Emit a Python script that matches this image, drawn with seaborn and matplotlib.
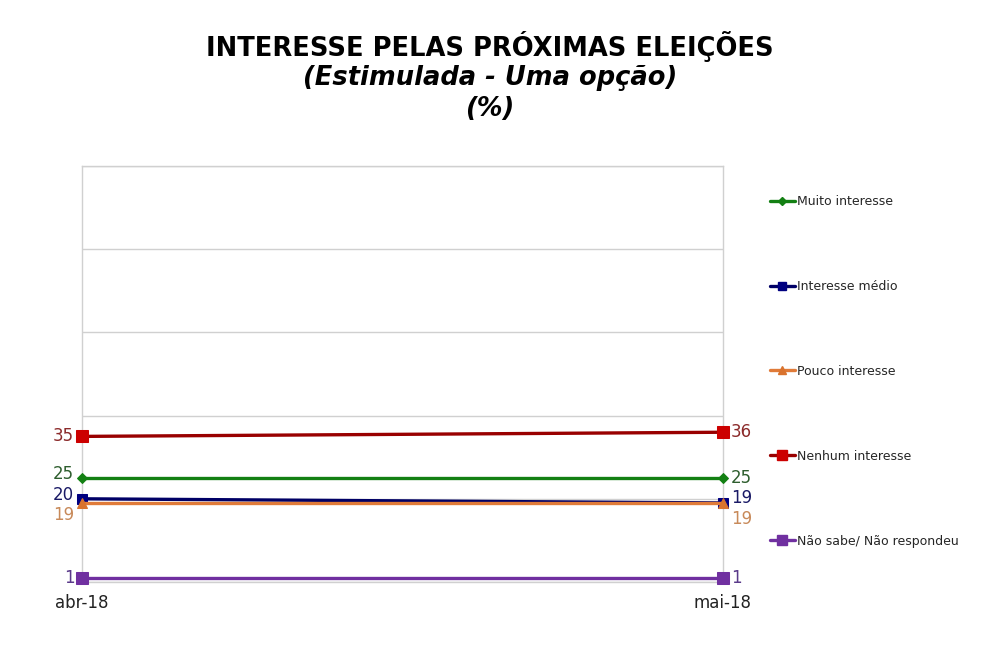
import matplotlib
matplotlib.use("Agg")
import matplotlib.pyplot as plt
import seaborn as sns
import pandas as pd
from matplotlib.lines import Line2D

periods = ["abr-18", "mai-18"]
series = ["Muito interesse", "Interesse médio", "Pouco interesse", "Nenhum interesse", "Não sabe/ Não respondeu"]
muito = [25, 25]
medio = [20, 19]
pouco = [19, 19]
nenhum = [35, 36]
nao_sabe = [1, 1]
values = [muito, medio, pouco, nenhum, nao_sabe]

line_colors = ["#138013", "#000066", "#E07B39", "#990000", "#7030A0"]
marker_colors = ["#138013", "#000080", "#D9732E", "#CC0000", "#7030A0"]
label_colors = ["#2E5E2E", "#1A1A66", "#C88A5A", "#8B2A2A", "#5A3A8A"]
markers = ["D", "s", "^", "s", "s"]
msizes = [5, 7, 7, 8, 8]

rows = []
for s, v in zip(series, values):
    for i, p in enumerate(periods):
        rows.append({"periodo": i, "serie": s, "valor": v[i]})
df = pd.DataFrame(rows)

sns.set_style("white")
plt.rcParams['font.family'] = ['DejaVu Sans']

fig = plt.figure(figsize=(9.87, 6.48), dpi=100)
ax = fig.add_axes([82/987, 1-582/648, (723-82)/987, (582-166)/648])

for s, lc, mc, mk, ms in zip(series, line_colors, marker_colors, markers, msizes):
    sub = df[df["serie"] == s]
    sns.lineplot(data=sub, x="periodo", y="valor", ax=ax, color=lc, linewidth=2.4,
                 marker=mk, markersize=ms, markerfacecolor=mc, markeredgecolor=mc,
                 legend=False, zorder=3, clip_on=False)

ax.set_xlim(0, 1)
ax.set_ylim(0, 100)
ax.set_yticks([0, 20, 40, 60, 80, 100])
ax.set_yticklabels([])
ax.tick_params(axis="y", length=0)
ax.set_xticks([0, 1])
ax.set_xticklabels(periods, fontsize=12, color="#222222")
ax.tick_params(axis="x", length=0, pad=9)
ax.grid(axis="y", color="#D0D0D0", linewidth=1)
for sp in ax.spines.values():
    sp.set_color("#D0D0D0")
    sp.set_linewidth(1)
ax.set_xlabel("")
ax.set_ylabel("")

# data labels
left_offsets = [1.0, 1.0, -2.8, 0, 0]
right_offsets = [0, 1.3, -3.9, 0, 0]
for v, c, lo, ro in zip(values, label_colors, left_offsets, right_offsets):
    ax.text(-0.012, v[0] + lo, str(v[0]), ha="right", va="center", fontsize=12, color=c)
    ax.text(1.012, v[1] + ro, str(v[1]), ha="left", va="center", fontsize=12, color=c)

# legend
handles = [Line2D([0], [0], color=lc, linewidth=2.4, marker=mk, markersize=ms - 1,
                  markerfacecolor=mc, markeredgecolor=mc)
           for lc, mc, mk, ms in zip(line_colors, marker_colors, markers, msizes)]
fig.legend(handles, series, loc="upper left", bbox_to_anchor=(765/987, 1-190/648),
           frameon=False, fontsize=9, handlelength=2.0, handletextpad=0.2,
           labelspacing=5.75, borderaxespad=0)

fig.text(490/987, 1-46/648, "INTERESSE PELAS PRÓXIMAS ELEIÇÕES", ha="center", va="center",
         fontsize=18.5, fontweight="bold", color="black")
fig.text(490/987, 1-78/648, "(Estimulada - Uma opção)", ha="center", va="center",
         fontsize=18.5, fontweight="bold", fontstyle="italic", color="black")
fig.text(490/987, 1-109/648, "(%)", ha="center", va="center",
         fontsize=18.5, fontweight="bold", fontstyle="italic", color="black")

fig.savefig("out.png", dpi=100, facecolor="white")
